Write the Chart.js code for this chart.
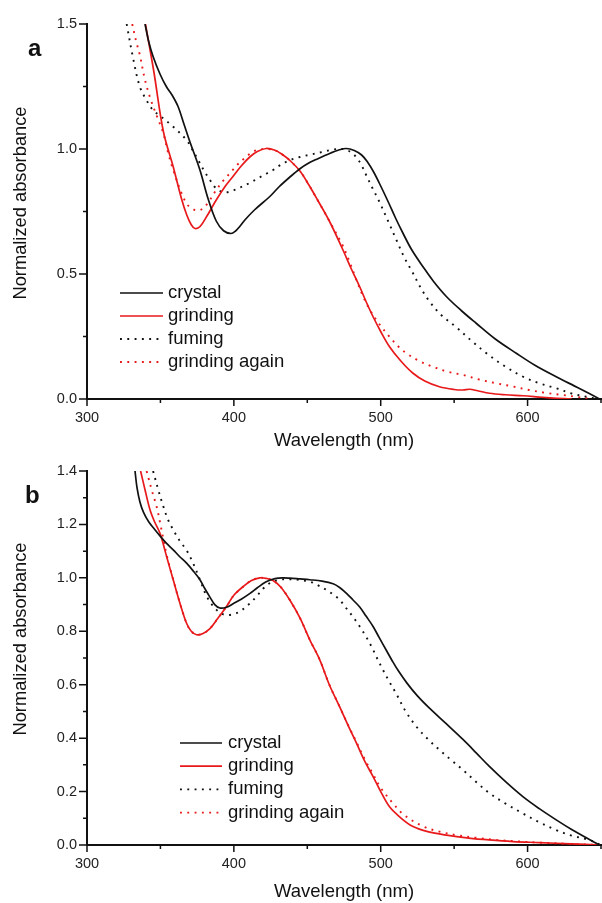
<!DOCTYPE html>
<html>
<head>
<meta charset="utf-8">
<script src="https://cdn.jsdelivr.net/npm/chart.js@4.4.1/dist/chart.umd.min.js"></script>
<style>
  body { margin: 0; background: #fff; width: 602px; height: 903px; position: relative; overflow: hidden;
         font-family: "Liberation Sans", Arial, sans-serif; color: #111; }
  .pane { position: absolute; left: 0; width: 602px; }
  #pa { top: 0; height: 452px; }
  #pb { top: 452px; height: 451px; }
  .tag { position: absolute; font-weight: bold; font-size: 24px; line-height: 24px; }
  .ytitle { position: absolute; width: 300px; left: -130px; text-align: center; font-size: 18.3px;
            line-height: 20px; transform: rotate(-90deg); }
</style>
</head>
<body>
<div class="pane" id="pa"><canvas id="ca"></canvas></div>
<div class="pane" id="pb"><canvas id="cb"></canvas></div>
<div class="tag" style="left:28px;top:36px">a</div>
<div class="tag" style="left:25px;top:483px">b</div>
<div class="ytitle" style="top:193px">Normalized absorbance</div>
<div class="ytitle" style="top:629px">Normalized absorbance</div>
<script>
/* UV-vis spectra, two samples (a, b): crystal / grinding / fuming / grinding again.
   Values as [wavelength nm, normalized absorbance]. */
const SERIES = ["crystal", "grinding", "fuming", "grinding again"];

const xMajor = [300, 400, 500, 600];
const xMinor = [350, 450, 550, 650];
const aYMajor = [0, 0.5, 1.0, 1.5];
const aYMinor = [0.25, 0.75, 1.25];
const bYMajor = [0, 0.2, 0.4, 0.6, 0.8, 1.0, 1.2, 1.4];
const bYMinor = [0.1, 0.3, 0.5, 0.7, 0.9, 1.1, 1.3];

// ---- panel a ----
const aCrystal = [[339.5,1.5],[342,1.43],[345,1.37],[349.7,1.3],[354,1.25],[358,1.215],[362,1.17],
  [366,1.1],[370,1.03],[376.9,0.916],[382.5,0.8],[388,0.712],[393,0.673],[398,0.662],[401,0.671],
  [404,0.69],[407.5,0.716],[414,0.756],[424.5,0.81],[431,0.85],[438,0.887],[445,0.921],[451,0.944],
  [456,0.958],[466,0.984],[471,0.995],[476.6,1.002],[482,0.994],[487,0.976],[491,0.948],[495,0.91],
  [499,0.864],[505,0.79],[510,0.725],[515,0.665],[521,0.598],[528.8,0.529],[536,0.47],[544.7,0.41],
  [555,0.353],[565,0.303],[578,0.24],[592.3,0.183],[605,0.135],[619.5,0.089],[635,0.043],[649,0.0]];
const aGrinding = [[339.8,1.5],[345.5,1.31],[352,1.07],[358.7,0.929],[364.4,0.8],[368,0.735],[371,0.697],
  [373.5,0.682],[377,0.69],[382,0.735],[388,0.796],[394,0.85],[399.5,0.891],[405,0.932],[411,0.969],[416,0.99],
  [422,1.002],[428,0.995],[433,0.978],[438,0.955],[445,0.912],[451,0.857],[457,0.796],[465,0.712],[474,0.6],
  [480,0.52],[485.7,0.449],[490,0.39],[494.8,0.329],[500,0.27],[506,0.209],[514,0.15],[522,0.103],[530,0.072],
  [540,0.049],[550,0.038],[556,0.036],[560.5,0.039],[566,0.033],[574,0.023],[585,0.017],[597,0.013],[610,0.007],
  [620,0.003],[630,0.0]];
const aFuming = [[327,1.5],[331.5,1.36],[336,1.249],[341,1.19],[345,1.155],[349.7,1.133],[358.7,1.089],
  [367.8,1.036],[371.5,1.0],[375.7,0.956],[380,0.91],[383.7,0.876],[387,0.848],[390.5,0.832],[394,0.826],
  [399.5,0.834],[405,0.848],[411,0.865],[418,0.888],[426.7,0.916],[432,0.937],[438,0.955],[445,0.968],
  [451.7,0.977],[460,0.988],[467.6,0.998],[474,1.0],[479,0.99],[483,0.97],[486.5,0.94],[490,0.897],
  [494,0.848],[499,0.79],[505,0.712],[510.7,0.636],[516,0.567],[522,0.503],[527,0.447],[533,0.392],
  [541,0.337],[551.5,0.287],[561,0.237],[572,0.183],[584,0.133],[597,0.089],[608,0.063],[619.5,0.043],
  [630,0.022],[640,0.009],[648,0.0]];
const aGrindingAgain = [[330.8,1.5],[333.5,1.43],[336,1.376],[339.5,1.276],[343.5,1.196],[348,1.125],
  [352,1.063],[355,0.99],[358.7,0.916],[364.4,0.823],[368,0.78],[371.2,0.763],[375,0.754],[379,0.762],
  [383,0.79],[388,0.836],[393,0.875],[397.5,0.904],[402,0.935],[407,0.962],[412,0.985],[416,0.996],
  [422,1.0],[428,0.995],[433,0.978],[438,0.955],[445,0.912],[451,0.857],[457,0.796],[465,0.712],[474,0.615],
  [478.5,0.553],[483.5,0.476],[488,0.41],[492.5,0.358],[499,0.3],[506,0.249],[512,0.21],[517.5,0.183],
  [526,0.153],[535.6,0.129],[545,0.11],[556,0.096],[567,0.078],[578.7,0.063],[590,0.05],[601,0.036],
  [612,0.025],[624,0.016],[634,0.008],[644,0.0]];

// ---- panel b ----
const bCrystal = [[332.7,1.4],[334,1.34],[336,1.285],[338.5,1.245],[342,1.21],[346,1.182],[349.7,1.157],
  [354,1.13],[358.7,1.105],[363,1.08],[367.8,1.055],[372,1.028],[376.9,0.993],[380,0.962],[383.7,0.928],
  [387,0.9],[390.5,0.887],[395,0.89],[399.5,0.903],[405,0.92],[411,0.942],[416,0.963],[422,0.985],
  [428,0.997],[433.5,1.0],[438,0.999],[445,0.996],[451.7,0.993],[460,0.988],[467.6,0.978],[472,0.964],
  [476.7,0.942],[481,0.918],[485.7,0.891],[490,0.857],[494.8,0.818],[499,0.776],[503.9,0.728],[508,0.688],
  [512,0.652],[518,0.605],[525,0.558],[533,0.513],[544,0.457],[556,0.395],[565,0.345],[574,0.294],
  [585,0.237],[596.8,0.181],[608,0.136],[619.5,0.094],[630,0.058],[640,0.027],[649,0.0]];
const bGrinding = [[336.5,1.4],[339.5,1.33],[342.9,1.255],[346,1.21],[349.7,1.167],[352,1.125],[354.2,1.08],
  [358.7,0.993],[363.3,0.905],[367.8,0.83],[371,0.8],[374.6,0.787],[379,0.792],[383.7,0.81],[389,0.848],
  [395,0.893],[400,0.935],[406.3,0.967],[412,0.99],[417.7,1.0],[422,0.998],[426.7,0.99],[432,0.965],
  [438,0.918],[445,0.85],[451.7,0.768],[458.5,0.693],[465,0.6],[472,0.518],[478,0.445],[483.5,0.381],
  [489,0.315],[494.8,0.256],[500,0.2],[506,0.143],[514,0.1],[522,0.069],[532,0.05],[544.7,0.037],
  [560,0.026],[574,0.019],[590,0.013],[608,0.009],[630,0.004],[649,0.0]];
const bFuming = [[345,1.4],[348.5,1.33],[352,1.267],[355,1.22],[358.7,1.18],[363,1.14],[367.8,1.103],
  [372,1.058],[376.9,0.993],[381.4,0.932],[385,0.9],[388.2,0.88],[391.5,0.866],[395,0.861],[399,0.863],
  [404,0.874],[410,0.9],[415.4,0.93],[420,0.96],[425,0.982],[431.3,0.993],[438,0.995],[445,0.992],
  [451.7,0.986],[457,0.973],[463,0.955],[467,0.94],[472,0.918],[476,0.89],[481,0.855],[485.5,0.82],
  [490,0.78],[494,0.74],[497,0.705],[501.6,0.655],[506,0.61],[510.7,0.565],[517,0.5],[524.3,0.443],
  [532,0.397],[540,0.356],[548,0.318],[556,0.281],[565,0.236],[574,0.194],[585,0.155],[596.8,0.118],
  [608,0.085],[619.5,0.056],[630,0.035],[642,0.019],[650,0.0]];
const bGrindingAgain = [[340.6,1.4],[344,1.33],[347.4,1.267],[350,1.2],[352,1.145],[354.5,1.08],
  [358.7,0.993],[363.3,0.905],[367.8,0.83],[371,0.8],[374.6,0.787],[379,0.792],[383.7,0.81],[389,0.848],
  [395,0.893],[400,0.935],[406.3,0.967],[412,0.99],[417.7,1.0],[422,0.998],[426.7,0.99],[432,0.965],
  [438,0.918],[445,0.85],[451.7,0.768],[458.5,0.693],[465,0.6],[472,0.518],[478,0.447],[483.5,0.385],
  [489,0.322],[494.8,0.265],[500,0.214],[508.4,0.156],[516,0.112],[528.8,0.07],[540,0.05],[551.5,0.037],
  [565,0.027],[578.7,0.019],[595,0.013],[608,0.009],[630,0.004],[649,0.0]];

const BLACK = "#111", RED = "#e8191b";
const FONT = '"Liberation Sans", Arial, sans-serif';

// outward major/minor tick marks, placed through the chart's own scales
const axisTicks = {
  id: "axisTicks",
  afterDraw(chart, args, o) {
    const { ctx, chartArea: ca, scales: { x, y } } = chart;
    ctx.save();
    ctx.strokeStyle = BLACK; ctx.lineWidth = 1.5;
    ctx.beginPath();
    const tx = (v, len) => { const p = x.getPixelForValue(v); ctx.moveTo(p, ca.bottom); ctx.lineTo(p, ca.bottom + len); };
    const ty = (v, len) => { const p = y.getPixelForValue(v); ctx.moveTo(ca.left, p); ctx.lineTo(ca.left - len, p); };
    o.xMajor.forEach(v => tx(v, 7)); o.xMinor.forEach(v => tx(v, 4));
    o.yMajor.forEach(v => ty(v, 8)); o.yMinor.forEach(v => ty(v, 4));
    ctx.stroke();
    ctx.restore();
  },
};

// legend drawn inside the plot area, Origin style
const inlineLegend = {
  id: "inlineLegend",
  afterDatasetsDraw(chart, args, o) {
    const ctx = chart.ctx;
    ctx.save();
    ctx.font = `${o.size}px ${FONT}`;
    ctx.textBaseline = "middle";
    chart.data.datasets.forEach((d, i) => {
      const y = o.top + i * o.row;
      ctx.strokeStyle = d.borderColor; ctx.lineWidth = d.borderWidth;
      ctx.setLineDash(d.borderDash || []);
      ctx.beginPath(); ctx.moveTo(o.x0, y); ctx.lineTo(o.x1, y); ctx.stroke();
      ctx.setLineDash([]);
      ctx.fillStyle = BLACK;
      ctx.fillText(d.label, o.tx, y);
    });
    ctx.restore();
  },
};

const toXY = arr => arr.map(([x, y]) => ({ x, y }));
const ds = (label, data, color, dotted) => ({
  label, data: toXY(data), borderColor: color, backgroundColor: color,
  borderWidth: dotted ? 1.9 : 1.7, borderDash: dotted ? [1.9, 5.4] : [],
  pointRadius: 0, tension: 0.35, fill: false,
});

function panel(canvasId, sets, p) {
  return new Chart(document.getElementById(canvasId), {
    type: "line",
    data: { datasets: [
      ds(SERIES[0], sets[0], BLACK, false),
      ds(SERIES[1], sets[1], RED, false),
      ds(SERIES[2], sets[2], BLACK, true),
      ds(SERIES[3], sets[3], RED, true),
    ] },
    options: {
      responsive: true, maintainAspectRatio: false, animation: false,
      layout: { padding: { top: p.padTop, right: 1, left: 0, bottom: 0 } },
      plugins: {
        legend: { display: false }, tooltip: { enabled: false },
        axisTicks: { xMajor, xMinor, yMajor: p.yMajor, yMinor: p.yMinor },
        inlineLegend: p.legend,
      },
      scales: {
        x: {
          type: "linear", min: 300, max: 650,
          afterBuildTicks: s => { s.ticks = xMajor.map(v => ({ value: v })); },
          afterFit: s => { s.height = p.xHeight; },
          grid: { display: false, drawTicks: false },
          border: { display: true, color: BLACK, width: 2 },
          ticks: { padding: 10, color: "#222", font: { family: FONT, size: 14.5 }, maxRotation: 0,
                   callback: v => String(v) },
          title: { display: true, text: "Wavelength (nm)", color: BLACK, padding: 0,
                   font: { family: FONT, size: 18.5 } },
        },
        y: {
          type: "linear", min: 0, max: p.yMax,
          afterBuildTicks: s => { s.ticks = p.yMajor.map(v => ({ value: v })); },
          afterFit: s => { s.width = 87; },
          grid: { display: false, drawTicks: false },
          border: { display: true, color: BLACK, width: 2 },
          ticks: { padding: 10, color: "#222", font: { family: FONT, size: 14.5 },
                   callback: v => Number(v).toFixed(1) },
        },
      },
    },
    plugins: [axisTicks, inlineLegend],
  });
}

panel("ca", [aCrystal, aGrinding, aFuming, aGrindingAgain], {
  padTop: 24, xHeight: 53, yMax: 1.5, yMajor: aYMajor, yMinor: aYMinor,
  legend: { x0: 120, x1: 163, tx: 168, top: 293, row: 23, size: 18.5 },
});
panel("cb", [bCrystal, bGrinding, bFuming, bGrindingAgain], {
  padTop: 19, xHeight: 58, yMax: 1.4, yMajor: bYMajor, yMinor: bYMinor,
  legend: { x0: 180, x1: 222, tx: 228, top: 291, row: 23.2, size: 18.5 },
});
</script>
</body>
</html>
